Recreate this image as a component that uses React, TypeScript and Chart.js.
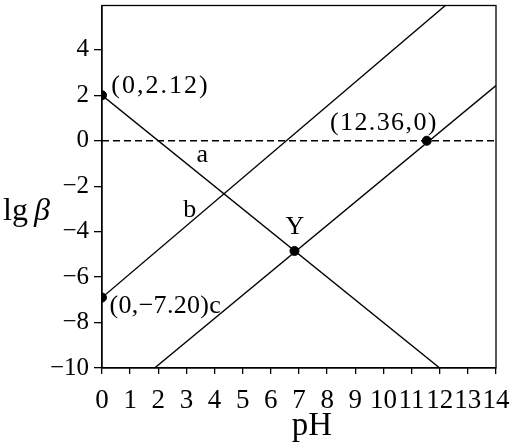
import React, { useEffect, useRef } from "react";
import { Chart, registerables } from "chart.js";

Chart.register(...registerables);

// Lines
const lineAX = [0, 12];
const lineAY = [2.0, -10];
const lineBX = [0, 12.2];
const lineBY = [-6.9, 5.95];
const lineCX = [1.87, 14];
const lineCY = [-10, 2.43];
const dashX = [0, 14];
const dashY = [0, 0];
const markX = [0, 0, 6.84, 11.54];
const markY = [2.0, -6.9, -4.85, 0];

const yTicks = [-10, -8, -6, -4, -2, 0, 2, 4];
const xTicks = [0, 1, 2, 3, 4, 5, 6, 7, 8, 9, 10, 11, 12, 13, 14];

// annotation texts (anchored in data coordinates, alphabetic baseline)
const labelText = ["(0,2.12)", "(12.36,0)", "a", "b", "Y", "(0,\u22127.20)c"];
const labelX = [0.33, 8.1, 3.56, 3.12, 6.85, 0.27];
const labelY = [2.08, 0.49, -0.94, -3.36, -4.09, -7.6];
const labelAlign: CanvasTextAlign[] = ["left", "left", "center", "center", "center", "left"];
const labelSpacing = [2, 1.4, 0, 0, 0, 0.3];

const FONT = "'Liberation Serif', 'Times New Roman', serif";

const pts = (xs: number[], ys: number[]) => xs.map((x, i) => ({ x, y: ys[i] }));

export default function App() {
  const ref = useRef<HTMLCanvasElement | null>(null);
  useEffect(() => {
    if (!ref.current) return;
    const annot = {
      id: "annot",
      afterDraw(chart: any) {
        const { ctx, chartArea, scales } = chart;
        ctx.save();
        ctx.strokeStyle = "#000";
        ctx.lineWidth = 1.3;
        ctx.strokeRect(chartArea.left, chartArea.top, chartArea.right - chartArea.left, chartArea.bottom - chartArea.top);
        ctx.fillStyle = "#000";
        ctx.font = `26px ${FONT}`;
        ctx.textBaseline = "alphabetic";
        labelText.forEach((t, i) => {
          ctx.textAlign = labelAlign[i];
          (ctx as any).letterSpacing = `${labelSpacing[i]}px`;
          ctx.fillText(t, scales.x.getPixelForValue(labelX[i]), scales.y.getPixelForValue(labelY[i]));
        });
        (ctx as any).letterSpacing = "0px";
        // axis titles
        ctx.font = `32px ${FONT}`;
        ctx.textAlign = "left";
        ctx.fillText("lg", 3, 220);
        ctx.font = `italic 32px ${FONT}`;
        ctx.fillText("\u03b2", 34, 220);
        ctx.font = `33px ${FONT}`;
        ctx.textAlign = "center";
        ctx.fillText("pH", 312, 435);
        ctx.restore();
      },
    };
    const lineDs = (xs: number[], ys: number[], dash: number[] = []) => ({
      data: pts(xs, ys),
      showLine: true,
      borderColor: "#000",
      borderWidth: 1.4,
      borderDash: dash,
      pointRadius: 0,
      fill: false,
    });
    const chart = new Chart(ref.current, {
      type: "scatter",
      data: {
        datasets: [
          lineDs(dashX, dashY, [7, 4]),
          lineDs(lineAX, lineAY),
          lineDs(lineBX, lineBY),
          lineDs(lineCX, lineCY),
          {
            data: pts(markX, markY),
            showLine: false,
            pointRadius: 4.5,
            pointBackgroundColor: "#000",
            pointBorderColor: "#000",
          },
        ],
      } as any,
      options: {
        animation: false,
        responsive: false,
        maintainAspectRatio: false,
        layout: { padding: { top: 5, right: 22, left: 0, bottom: 0 } },
        plugins: { legend: { display: false }, tooltip: { enabled: false } },
        scales: {
          x: {
            type: "linear",
            min: 0,
            max: 14,
            afterBuildTicks: (s: any) => {
              s.ticks = xTicks.map((v) => ({ value: v }));
            },
            afterFit: (s: any) => {
              s.height = 75;
              s.paddingLeft = 0;
              s.paddingRight = 0;
            },
            grid: { drawOnChartArea: false, drawTicks: true, tickLength: 6, color: "#000", lineWidth: 1.3 },
            border: { display: true, color: "#000", width: 1.3 },
            ticks: { color: "#000", font: { family: FONT, size: 27 }, padding: 11, maxRotation: 0, autoSkip: false },
          },
          y: {
            type: "linear",
            min: -10,
            max: 5.95,
            afterBuildTicks: (s: any) => {
              s.ticks = yTicks.map((v) => ({ value: v }));
            },
            afterFit: (s: any) => {
              s.width = 102;
              s.paddingTop = 0;
              s.paddingBottom = 0;
            },
            grid: { drawOnChartArea: false, drawTicks: true, tickLength: 8, color: "#000", lineWidth: 1.3 },
            border: { display: true, color: "#000", width: 1.3 },
            ticks: {
              color: "#000",
              font: { family: FONT, size: 25 },
              padding: 5,
              callback: (v: any) => (v < 0 ? "\u2212" + Math.abs(v) : String(v)),
            },
          },
        },
      } as any,
      plugins: [annot],
    });
    return () => chart.destroy();
  }, []);
  return (
    <div style={{ position: "fixed", left: 0, top: 0, width: 518, height: 443, background: "#fff" }}>
      <canvas ref={ref} width={518} height={443} style={{ width: 518, height: 443 }} />
    </div>
  );
}
